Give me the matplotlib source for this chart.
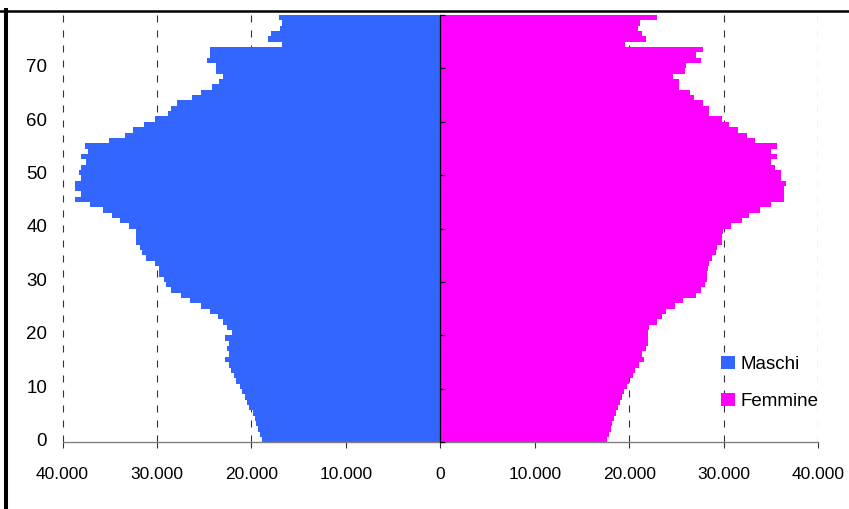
import matplotlib
matplotlib.use("Agg")
import matplotlib.pyplot as plt
from matplotlib.patches import Patch
from matplotlib.lines import Line2D
from matplotlib.ticker import FuncFormatter, FixedLocator

plt.rcParams['font.family'] = ['Liberation Sans', 'DejaVu Sans']

ages = list(range(0, 80))
maschi = [18844, 19056, 19268, 19480, 19586, 19799, 20223, 20435, 20647, 20965,
          21177, 21601, 21813, 22131, 22344, 22768, 22344, 22556, 22344, 22768,
          22025, 22556, 22980, 23510, 24358, 25313, 26479, 27434, 28494, 29024,
          29236, 29767, 29767, 30191, 31145, 31570, 31782, 32206, 32206, 32206,
          32948, 33902, 34751, 35705, 37084, 38674, 38038, 38674, 38674, 38038,
          38250, 38038, 37508, 38038, 37296, 37614, 35069, 33372, 32524, 31357,
          30191, 28812, 28494, 27858, 26267, 25313, 24146, 23404, 22980, 23722,
          23722, 24677, 24358, 24358, 16723, 18208, 17890, 16935, 16723, 17041]
femmine = [17635, 17847, 18059, 18165, 18378, 18590, 18802, 19014, 19226, 19438,
           19756, 19968, 20392, 20604, 21030, 21559, 21347, 21771, 21983, 21983,
           21983, 22089, 22937, 23467, 23892, 24846, 25695, 27073, 27603, 28028,
           28240, 28240, 28346, 28452, 28770, 29194, 29300, 29830, 29830, 29936,
           30785, 31951, 32694, 33860, 35027, 36405, 36405, 36405, 36617, 36087,
           36087, 35451, 35027, 35663, 35027, 35663, 33330, 32481, 31527, 30573,
           29830, 28452, 28452, 27815, 26861, 26437, 25270, 25270, 24634, 25907,
           26013, 27603, 27073, 27815, 19544, 21771, 21347, 20923, 21135, 22937]
series_names = ["Maschi", "Femmine"]
colors = ["#3366FF", "#FF00FF"]
x_ticks = [-40000, -30000, -20000, -10000, 0, 10000, 20000, 30000, 40000]
y_ticks = [0, 10, 20, 30, 40, 50, 60, 70]

fig = plt.figure(figsize=(8.49, 5.09), dpi=100)
ax = fig.add_axes([62.5/849, 1-442.3/509, (818.3-62.5)/849, (442.3-15)/509])

ax.barh(ages, [-v for v in maschi], height=1.0, color=colors[0], linewidth=0, zorder=2)
ax.barh(ages, femmine, height=1.0, color=colors[1], linewidth=0, zorder=2)

ax.set_xlim(-40000, 40000)
ax.set_ylim(-0.5, 79.5)

ax.set_xticks(x_ticks)
ax.xaxis.set_major_formatter(FuncFormatter(lambda v, p: f"{abs(int(round(v))):,}".replace(',', '.')))
ax.set_yticks(y_ticks)
ax.set_yticklabels([str(t) for t in y_ticks])

ax.set_axisbelow(True)
ax.grid(axis='x', color='#333333', linewidth=0.8, linestyle=(0, (6.3, 7.2)))
ax.grid(axis='y', visible=False)

for s in ['left', 'right', 'top']:
    ax.spines[s].set_visible(False)
ax.spines['bottom'].set_color('#808080')
ax.spines['bottom'].set_linewidth(1.0)
ax.spines['bottom'].set_zorder(3)

ax.tick_params(axis='x', direction='out', length=4.5, width=0.8, color='#333333',
               labelsize=12.5, pad=13.5, labelcolor='black')
ax.tick_params(axis='y', length=0, labelsize=13.5, pad=11, labelcolor='black')

# center category axis with tick marks between categories
ax2 = ax.twinx()
ax2.set_ylim(-0.5, 79.5)
ax2.spines['right'].set_position(('data', 0))
for s in ['left', 'top', 'bottom']:
    ax2.spines[s].set_visible(False)
ax2.spines['right'].set_color('black')
ax2.spines['right'].set_linewidth(0.9)
ax2.yaxis.set_major_locator(FixedLocator([t - 0.5 for t in y_ticks] + [79.5]))
ax2.tick_params(axis='y', direction='out', length=3.6, width=0.9, color='black',
                labelright=False)

handles = [Patch(facecolor=c, edgecolor='none') for c in colors]
fig.legend(handles, series_names, loc='upper left', bbox_to_anchor=(721/849, 1-356/509),
           frameon=False, fontsize=13.5, handlelength=0.72, handleheight=0.72,
           handletextpad=0.33, labelspacing=1.05, borderpad=0, borderaxespad=0)

# chart area border fragments
fig.add_artist(Line2D([0.0, 1.0], [1-11/509, 1-11/509], transform=fig.transFigure,
                      color='black', linewidth=1.8))
fig.add_artist(Line2D([6/849, 6/849], [0, 1-10/509], transform=fig.transFigure,
                      color='black', linewidth=2.9))

fig.savefig("out.png", dpi=100)
